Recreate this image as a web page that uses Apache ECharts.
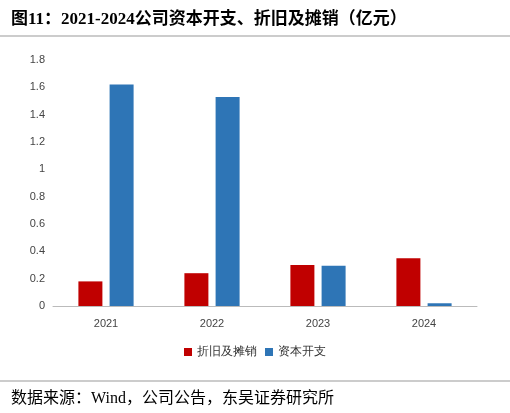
<!DOCTYPE html>
<html><head><meta charset="utf-8">
<script src="https://cdn.jsdelivr.net/npm/echarts@6/dist/echarts.min.js"></script>
<style>body{margin:0;background:#fff}#c{width:510px;height:413px}</style>
</head><body><div id="c"></div>
<script>
const categories=['2021','2022','2023','2024'];
const depreciation=[0.18,0.24,0.30,0.35];
const capex=[1.62,1.53,0.295,0.02];
const yTicks=['0','0.2','0.4','0.6','0.8','1','1.2','1.4','1.6','1.8'];
const chart=echarts.init(document.getElementById('c'));
chart.setOption({
 animation:false,
 title:[{text:'图11：2021-2024公司资本开支、折旧及摊销（亿元）',left:6,top:6,textStyle:{fontSize:17,fontWeight:'bold',color:'#000',fontFamily:'"Liberation Serif","Noto Sans CJK SC"'}},
  {text:'数据来源：Wind，公司公告，东吴证券研究所',left:6,top:386,textStyle:{fontSize:16,fontWeight:'normal',color:'#000',fontFamily:'"Liberation Serif","Noto Sans CJK SC"'}}],
 graphic:[{type:'line',shape:{x1:0,y1:36,x2:510,y2:36},style:{stroke:'#999',lineWidth:1}},
  {type:'line',shape:{x1:0,y1:381,x2:510,y2:381},style:{stroke:'#999',lineWidth:1}}],
 legend:{bottom:50,left:'center',itemWidth:8,itemHeight:8,icon:'rect',textStyle:{fontSize:12,color:'#333'},data:['折旧及摊销','资本开支']},
 grid:{left:53,right:33,top:60,bottom:107},
 xAxis:{type:'category',data:categories,axisTick:{show:false},axisLine:{lineStyle:{color:'#bbb'}},axisLabel:{color:'#444',fontSize:11,margin:12}},
 yAxis:{type:'value',min:0,max:1.8,interval:0.2,splitLine:{show:false},axisLine:{show:false},axisTick:{show:false},
  axisLabel:{color:'#444',fontSize:11,formatter:v=>yTicks[Math.round(v/0.2)]}},
 series:[{name:'折旧及摊销',type:'bar',data:depreciation,barWidth:24,barGap:'30%',itemStyle:{color:'#C00000'}},
  {name:'资本开支',type:'bar',data:capex,barWidth:24,itemStyle:{color:'#2E75B6'}}]
});
</script></body></html>
